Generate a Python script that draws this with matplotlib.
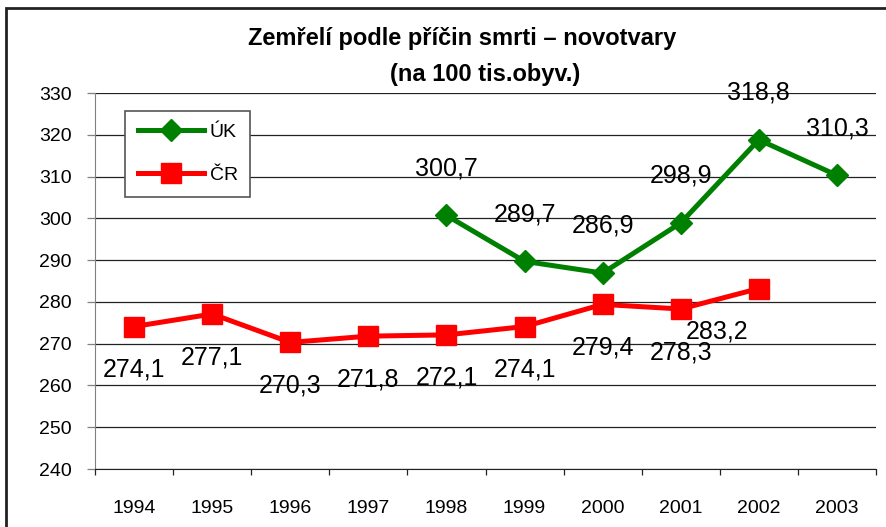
import matplotlib.pyplot as plt
from matplotlib.patches import Rectangle

plt.rcParams['font.family'] = ['Liberation Sans', 'DejaVu Sans']

# data
years = ["1994", "1995", "1996", "1997", "1998", "1999", "2000", "2001", "2002", "2003"]
uk_years = ["1998", "1999", "2000", "2001", "2002", "2003"]
uk_values = [300.7, 289.7, 286.9, 298.9, 318.8, 310.3]
cr_years = ["1994", "1995", "1996", "1997", "1998", "1999", "2000", "2001", "2002"]
cr_values = [274.1, 277.1, 270.3, 271.8, 272.1, 274.1, 279.4, 278.3, 283.2]
y_ticks = [240, 250, 260, 270, 280, 290, 300, 310, 320, 330]

# label offsets in points (dx, dy)
uk_offsets = [(0, 34)] * 6
cr_offsets = [(0, -31)] * 8 + [(-30, -31)]

fig = plt.figure(figsize=(8.87, 5.27), dpi=100)
ax = fig.add_axes([95 / 887, 1 - 469 / 527, 781 / 887, 376 / 527])

ux = [years.index(y) for y in uk_years]
cx = [years.index(y) for y in cr_years]

ax.plot(ux, uk_values, color='#008000', lw=3.6, marker='D', markersize=11,
        markeredgewidth=1, label='ÚK', zorder=4)
ax.plot(cx, cr_values, color='#ff0000', lw=3.6, marker='s', markersize=15,
        markeredgewidth=1, label='ČR', zorder=4)

def fmt(v):
    return ('%.1f' % v).replace('.', ',')

for x, v, off in zip(ux, uk_values, uk_offsets):
    ax.annotate(fmt(v), (x, v), xytext=off, textcoords='offset points',
                ha='center', va='center', fontsize=18, zorder=5)
for x, v, off in zip(cx, cr_values, cr_offsets):
    ax.annotate(fmt(v), (x, v), xytext=off, textcoords='offset points',
                ha='center', va='center', fontsize=18, zorder=5)

ax.set_xlim(-0.5, len(years) - 0.5)
ax.set_ylim(240, 330)
ax.set_yticks(y_ticks)
ax.yaxis.grid(True, color='#222222', lw=0.9)
ax.set_axisbelow(True)

ax.set_xticks([i - 0.5 for i in range(len(years) + 1)])
ax.set_xticklabels([])
ax.set_xticks(range(len(years)), minor=True)
ax.set_xticklabels(years, minor=True, fontsize=14)
ax.tick_params(axis='x', which='major', length=4, width=0.9, color='#222222')
ax.tick_params(axis='x', which='minor', length=0, pad=22)
ax.tick_params(axis='y', length=6, width=0.9, color='#808080', labelsize=14, pad=11)

for s in ['top', 'right']:
    ax.spines[s].set_visible(False)
ax.spines['left'].set_color('#808080')
ax.spines['bottom'].set_color('#222222')

leg = ax.legend(loc='upper left', bbox_to_anchor=(125 / 887, 1 - 111 / 527),
                bbox_transform=fig.transFigure, fontsize=14, frameon=True,
                fancybox=False, edgecolor='#555555', framealpha=1,
                handlelength=3.4, handletextpad=0.3, labelspacing=1.3,
                borderpad=0.65, borderaxespad=0)
leg.get_frame().set_linewidth(1.2)

fig.text(462 / 887, 1 - 38 / 527, 'Zemřelí podle příčin smrti – novotvary',
         ha='center', va='center', fontsize=17, fontweight='bold')
fig.text(485 / 887, 1 - 75 / 527, '(na 100 tis.obyv.)',
         ha='center', va='center', fontsize=17, fontweight='bold')

# outer frame of the chart
fig.patches.append(Rectangle((6 / 887, -0.1), 1.0, 1 - 8 / 527 + 0.1,
                             transform=fig.transFigure, fill=False,
                             edgecolor='#222222', lw=2))

fig.savefig('out.png', dpi=100)
